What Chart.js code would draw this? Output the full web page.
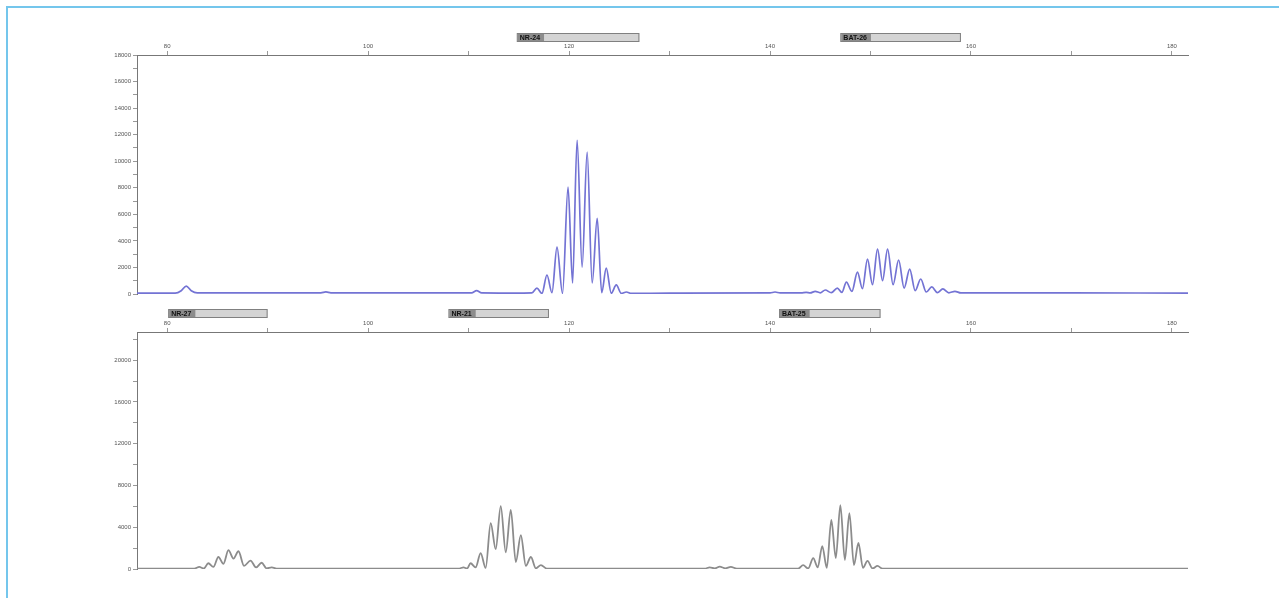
<!DOCTYPE html>
<html>
<head>
<meta charset="utf-8">
<script src="https://cdn.jsdelivr.net/npm/chart.js@4/dist/chart.umd.min.js"></script>
<style>
  body { margin: 0; background: #fff; width: 1279px; height: 598px; overflow: hidden; }
  .frame { position: absolute; left: 6px; top: 6px; right: 0; bottom: 0; border-left: 2px solid #74c6ec; border-top: 2px solid #74c6ec; }
  canvas { position: absolute; left: 0; }
</style>
</head>
<body>
<div class="frame"></div>
<canvas id="top" width="1279" height="300" style="top:0"></canvas>
<canvas id="bottom" width="1279" height="298" style="top:300px"></canvas>
<script>

// size axis (bp)
const xTicks = [80, 90, 100, 110, 120, 130, 140, 150, 160, 170, 180];
const xLabels = [80, 100, 120, 140, 160, 180];

// top panel (blue)
const topYTicks = [0, 1000, 2000, 3000, 4000, 5000, 6000, 7000, 8000, 9000, 10000,
    11000, 12000, 13000, 14000, 15000, 16000, 17000, 18000];
const topYLabels = [0, 2000, 4000, 6000, 8000, 10000, 12000, 14000, 16000, 18000];

const topX = [77, 80.8, 81.4, 81.9, 82.4, 83.0, 90, 95.3, 95.8, 96.3, 100, 110.3, 110.8, 111.3, 115.5,
    116.3, 116.8, 117.3, 117.8, 118.3, 118.8, 119.35, 119.9, 120.35, 120.8, 121.3, 121.8,
    122.3, 122.8, 123.25, 123.7, 124.2, 124.7, 125.2, 125.7, 126.2, 130, 140.0, 140.5, 141.0,
    143.1, 143.6, 144.0, 144.5, 145.0, 145.5, 146.1, 146.7, 147.15, 147.6, 148.15, 148.7,
    149.2, 149.7, 150.2, 150.7, 151.2, 151.7, 152.25, 152.8, 153.35, 153.9, 154.45, 155.0,
    155.55, 156.1, 156.65, 157.2, 157.8, 158.4, 159.0, 170, 181.6];
const topY = [60, 70, 250, 600, 250, 90, 80, 90, 160, 90, 80, 90, 250, 90, 70,
    80, 450, 40, 1430, 100, 3530, 40, 8050, 830, 11580, 2030, 10680,
    830, 5700, 100, 1950, 60, 680, 40, 150, 40, 70, 80, 150, 80,
    80, 120, 80, 200, 90, 300, 100, 450, 120, 900, 200, 1650,
    400, 2630, 700, 3380, 1000, 3380, 700, 2560, 450, 1880, 250, 1130,
    150, 530, 100, 380, 90, 200, 80, 80, 70];

const topBinLabels = ["NR-24", "BAT-26"];
const topBinStart = [114.8, 147.0];
const topBinEnd = [127.0, 159.0];

// bottom panel (grey)
const bottomYTicks = [0, 2000, 4000, 6000, 8000, 10000, 12000, 14000, 16000, 18000, 20000, 22000];
const bottomYLabels = [0, 4000, 8000, 12000, 16000, 20000];

const bottomX = [77, 82.7, 83.2, 83.65, 84.1, 84.6, 85.1, 85.6, 86.1, 86.6, 87.1, 87.65, 88.3,
    88.85, 89.4, 89.9, 90.4, 91.0, 100, 109.0, 109.5, 109.85, 110.2, 110.7, 111.2, 111.7, 112.2,
    112.7, 113.2, 113.7, 114.2, 114.7, 115.2, 115.7, 116.2, 116.7, 117.2, 117.8, 125, 133.5,
    134.0, 134.5, 135.0, 135.55, 136.1, 136.7, 142.8, 143.3, 143.8, 144.3, 144.75, 145.2,
    145.65, 146.1, 146.55, 147.0, 147.45, 147.9, 148.35, 148.8, 149.25, 149.7, 150.2, 150.7,
    151.2, 160, 181.6];
const bottomY = [30, 40, 200, 50, 550, 200, 1150, 500, 1800, 1000, 1700, 300, 800,
    150, 600, 60, 150, 30, 30, 40, 150, 50, 550, 150, 1530, 100, 4400,
    1900, 6030, 1600, 5650, 670, 3250, 300, 1150, 60, 380, 30, 30, 40,
    150, 60, 220, 60, 200, 40, 40, 380, 50, 1050, 150, 2200,
    100, 4700, 1050, 6120, 860, 5360, 380, 2490, 100, 770, 60, 290,
    30, 30, 30];

const bottomBinLabels = ["NR-27", "NR-21", "BAT-25"];
const bottomBinStart = [80.1, 108.0, 140.9];
const bottomBinEnd = [90.0, 118.0, 151.0];

const binPlugin = {
    id: "bins",
    afterDraw(chart, args, opts) {
        const ctx = chart.ctx;
        const xs = chart.scales.x;
        ctx.save();
        opts.labels.forEach((lab, i) => {
            const x1 = xs.getPixelForValue(opts.start[i]);
            const x2 = xs.getPixelForValue(opts.end[i]);
            const y = opts.top;
            const h = 9;
            ctx.fillStyle = "#d4d4d4";
            ctx.fillRect(x1, y, x2 - x1, h);
            ctx.strokeStyle = "#808080";
            ctx.lineWidth = 1;
            ctx.strokeRect(x1 + 0.5, y + 0.5, x2 - x1 - 1, h - 1);
            ctx.font = "bold 7px 'Liberation Sans', Arial, sans-serif";
            const w = ctx.measureText(lab).width + 6;
            ctx.fillStyle = "#8c8c8c";
            ctx.fillRect(x1 + 1, y + 1, w, h - 2);
            ctx.fillStyle = "#111";
            ctx.textBaseline = "middle";
            ctx.fillText(lab, x1 + 3, y + h / 2 + 0.5);
        });
        ctx.restore();
    }
};

function makeChart(id, xv, yv, color, width, yMax, yTicks, yLabels, axisH, padBottom, bins) {

    const pts = xv.map((x, i) => ({ x: x, y: yv[i] }));

    return new Chart(document.getElementById(id), {
        type: "line",
        data: {
            datasets: [{
                data: pts,
                borderColor: color,
                borderWidth: width,
                pointRadius: 0,
                fill: false,
                cubicInterpolationMode: "monotone"
            }]
        },
        options: {
            responsive: false,
            animation: false,
            layout: { padding: { left: 0, right: 91, top: 0, bottom: padBottom } },
            plugins: {
                legend: { display: false },
                tooltip: { enabled: false },
                bins: bins
            },
            scales: {
                x: {
                    type: "linear",
                    position: "top",
                    min: 77,
                    max: 181.6,
                    afterBuildTicks: s => { s.ticks = xTicks.map(v => ({ value: v })); },
                    afterFit: s => { s.height = axisH; },
                    ticks: {
                        autoSkip: false,
                        maxRotation: 0,
                        padding: 1,
                        color: "#555",
                        font: { size: 6, family: "'Liberation Sans', Arial, sans-serif" },
                        callback: v => xLabels.includes(v) ? v : ""
                    },
                    grid: { drawOnChartArea: false, tickLength: 4, color: "#999" },
                    border: { color: "#777", width: 1 }
                },
                y: {
                    min: 0,
                    max: yMax,
                    afterBuildTicks: s => { s.ticks = yTicks.map(v => ({ value: v })); },
                    afterFit: s => { s.width = 137; },
                    ticks: {
                        autoSkip: false,
                        padding: 2,
                        color: "#555",
                        font: { size: 6, family: "'Liberation Sans', Arial, sans-serif" },
                        callback: v => yLabels.includes(v) ? v : ""
                    },
                    grid: { drawOnChartArea: false, tickLength: 4, color: "#999" },
                    border: { color: "#777", width: 1 }
                }
            }
        },
        plugins: [binPlugin]
    });

}

makeChart("top", topX, topY, "#7373d4", 1.7, 18000, topYTicks, topYLabels, 55, 6,
    { labels: topBinLabels, start: topBinStart, end: topBinEnd, top: 33 });

makeChart("bottom", bottomX, bottomY, "#8c8c8c", 1.8, 22700, bottomYTicks, bottomYLabels, 32, 29,
    { labels: bottomBinLabels, start: bottomBinStart, end: bottomBinEnd, top: 9 });

</script>
</body>
</html>
